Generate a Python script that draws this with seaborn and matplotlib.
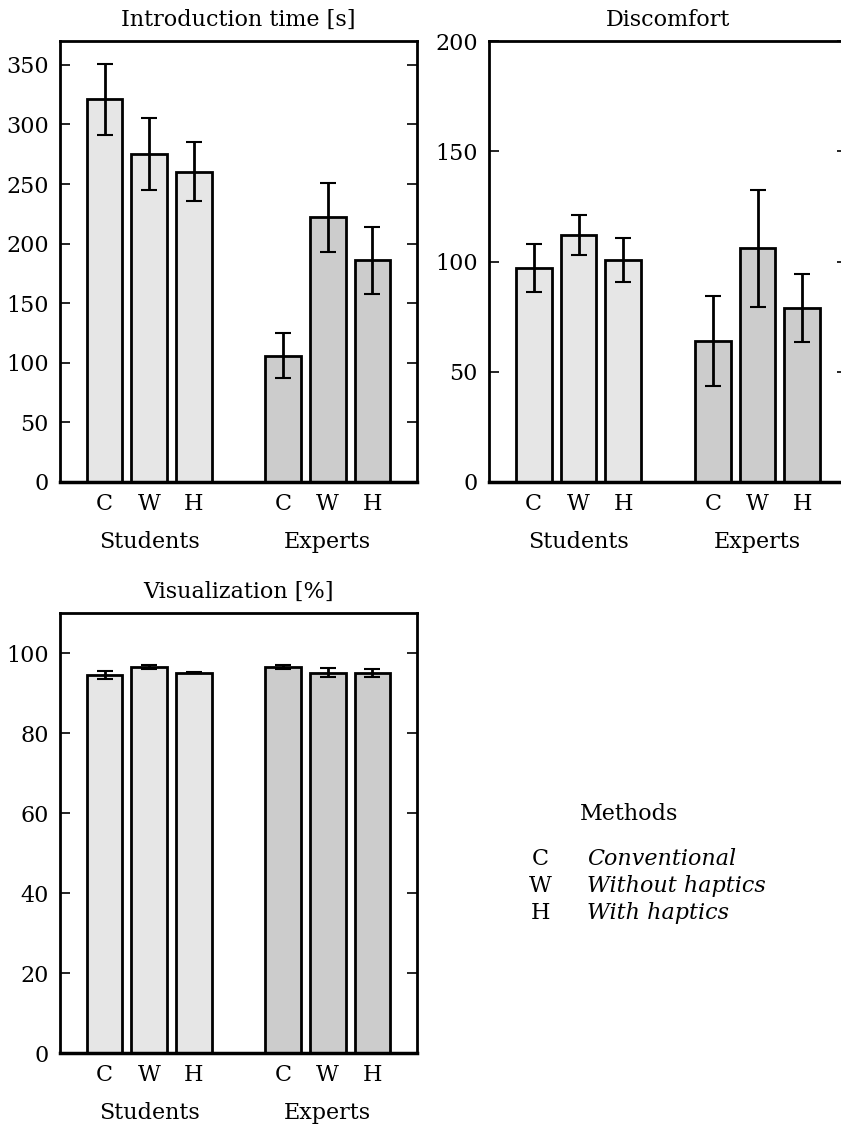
import matplotlib
matplotlib.use('Agg')
import matplotlib.pyplot as plt
import seaborn as sns
import pandas as pd

# data
methods = ['C', 'W', 'H']
groups = ['Students', 'Experts']
positions = [0, 1, 2, 4, 5, 6]

intro_mean = [321, 275, 260.5, 106, 222, 186]
intro_err = [30, 30, 25, 19, 29, 28]

discomfort_mean = [97, 112, 100.5, 64, 106, 79]
discomfort_err = [11, 9, 10, 20.5, 26.5, 15.5]

vis_mean = [94.5, 96.5, 95.1, 96.5, 95.1, 95.1]
vis_err = [0.9, 0.5, 0.2, 0.6, 1.1, 1.0]

legend_items = [('C', 'Conventional'), ('W', 'Without haptics'), ('H', 'With haptics')]

sns.set_style('ticks', {'axes.edgecolor': 'black', 'xtick.color': 'black',
                        'ytick.color': 'black', 'text.color': 'black'})
plt.rcParams['font.family'] = ['DejaVu Serif']
FS = 16
bar_colors = {'Students': '#e6e6e6', 'Experts': '#cccccc'}


def draw_panel(ax, means, errs, title, ylim, yticks):
    df = pd.DataFrame({
        'pos': positions,
        'value': means,
        'err': errs,
        'group': [g for g in groups for _ in methods],
    })
    sns.barplot(data=df, x='pos', y='value', hue='group', palette=bar_colors,
                native_scale=True, dodge=False, width=0.8, errorbar=None,
                edgecolor='black', linewidth=2, legend=False, ax=ax)
    ax.errorbar(df['pos'], df['value'], yerr=df['err'], fmt='none',
                ecolor='black', elinewidth=2, capsize=5.5, capthick=1.5, zorder=5)
    ax.set_xlim(-1, 7)
    ax.set_ylim(*ylim)
    ax.set_yticks(yticks)
    ax.set_xticks(positions)
    ax.set_xticklabels(methods * 2)
    ax.set_xlabel('')
    ax.set_ylabel('')
    ax.set_title(title, fontsize=FS, pad=11)
    ax.tick_params(axis='y', direction='in', length=7, width=1.2, colors='black',
                   left=True, right=True, labelsize=FS, pad=8)
    ax.tick_params(axis='x', length=0, labelsize=FS, pad=8, colors='black')
    for side in ['left', 'right', 'top']:
        ax.spines[side].set_linewidth(2)
        ax.spines[side].set_visible(True)
    ax.spines['bottom'].set_linewidth(2.5)
    for i, g in enumerate(groups):
        ax.annotate(g, xy=(positions[i * 3 + 1], 0),
                    xycoords=('data', 'axes fraction'),
                    xytext=(0, -43), textcoords='offset points',
                    ha='center', va='center', fontsize=FS)


fig = plt.figure(figsize=(8.41, 11.28), dpi=100)
ax1 = fig.add_axes([60 / 841, (1128 - 482) / 1128, 357 / 841, 441 / 1128])
ax2 = fig.add_axes([489 / 841, (1128 - 482) / 1128, 358 / 841, 441 / 1128])
ax3 = fig.add_axes([60 / 841, (1128 - 1053) / 1128, 357 / 841, 440 / 1128])

draw_panel(ax1, intro_mean, intro_err, 'Introduction time [s]', (0, 370), range(0, 351, 50))
draw_panel(ax2, discomfort_mean, discomfort_err, 'Discomfort', (0, 200), range(0, 201, 50))
draw_panel(ax3, vis_mean, vis_err, 'Visualization [%]', (0, 110), range(0, 101, 20))

fig.text(629 / 841, 1 - 814 / 1128, 'Methods', ha='center', va='center', fontsize=FS)
for i, (k, name) in enumerate(legend_items):
    y = 1 - (859 + 27 * i) / 1128
    fig.text(540 / 841, y, k, ha='center', va='center', fontsize=FS)
    fig.text(587 / 841, y, name, ha='left', va='center', fontsize=FS, style='italic')

fig.savefig('out.png', dpi=100)
